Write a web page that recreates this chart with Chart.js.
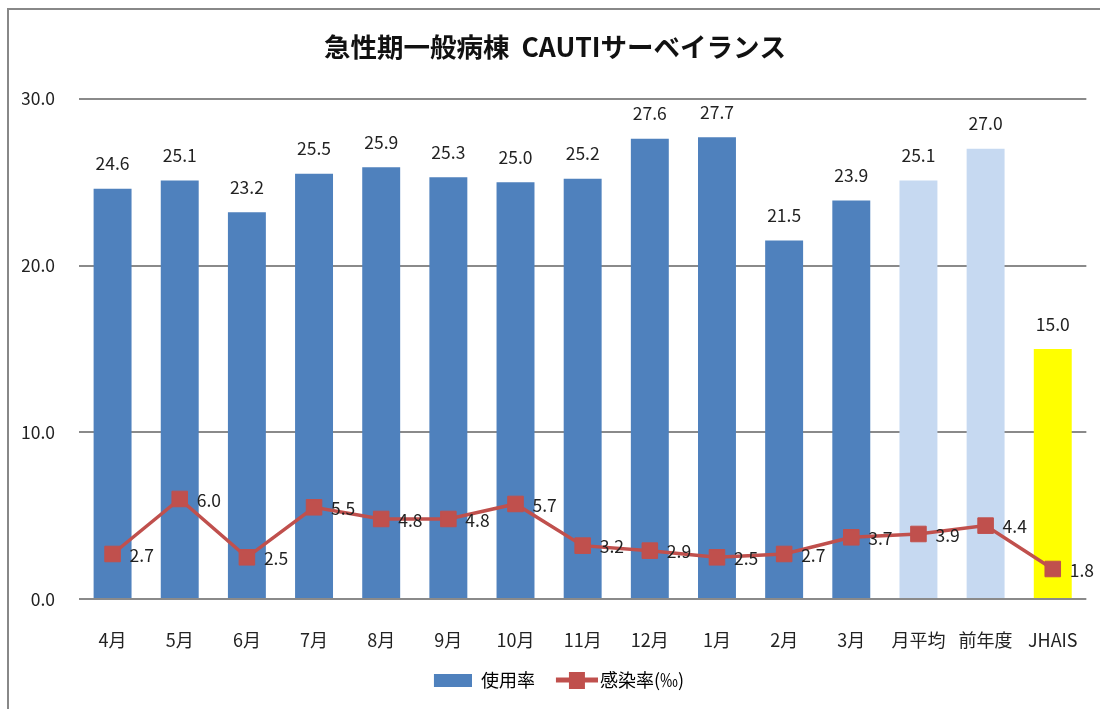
<!DOCTYPE html>
<html lang="ja">
<head>
<meta charset="UTF-8">
<title>急性期一般病棟 CAUTIサーベイランス</title>
<script src="https://cdn.jsdelivr.net/npm/chart.js"></script>
<style>
    html, body { margin: 0; padding: 0; background: #fff; overflow: hidden; }
    .frame {
        position: absolute;
        left: 7px;
        top: 8px;
        width: 1300px;
        height: 900px;
        border: 2px solid #888;
    }
    .wrap { position: absolute; left: 0; top: 0; width: 1100px; height: 709px; }
</style>
</head>
<body>
<div class="frame"></div>
<div class="wrap"><canvas id="chart" width="1100" height="709"></canvas></div>
<script>
const months = ['4月', '5月', '6月', '7月', '8月', '9月', '10月', '11月', '12月', '1月', '2月', '3月', '月平均', '前年度', 'JHAIS'];
const usageRate = [24.6, 25.1, 23.2, 25.5, 25.9, 25.3, 25.0, 25.2, 27.6, 27.7, 21.5, 23.9, 25.1, 27.0, 15.0];
const infectionRate = [2.7, 6.0, 2.5, 5.5, 4.8, 4.8, 5.7, 3.2, 2.9, 2.5, 2.7, 3.7, 3.9, 4.4, 1.8];
const yTicks = [0, 10, 20, 30];

const FONT = "'Noto Sans CJK JP', 'Noto Sans', sans-serif";
const barColors = months.map((m, i) => i < 12 ? '#4f81bd' : (i < 14 ? '#c6d9f1' : '#ffff00'));

// legend swatches (drawn centred on a 46px legend box)
const barSwatch = document.createElement('canvas');
barSwatch.width = 46; barSwatch.height = 13;
let g = barSwatch.getContext('2d');
g.fillStyle = '#4f81bd';
g.fillRect(8, 0, 38, 13);

const lineSwatch = document.createElement('canvas');
lineSwatch.width = 60; lineSwatch.height = 17;
g = lineSwatch.getContext('2d');
g.fillStyle = '#c0504d';
g.fillRect(18, 6, 42, 5);
g.fillRect(31, 0, 16, 17);

// value labels on bars and points
const valueLabels = {
    id: 'valueLabels',
    afterDatasetsDraw(chart) {
        const ctx = chart.ctx;
        ctx.save();
        ctx.font = '17.5px ' + FONT;
        ctx.fillStyle = '#222';
        ctx.textBaseline = 'middle';
        chart.data.datasets.forEach((ds, di) => {
            const meta = chart.getDatasetMeta(di);
            meta.data.forEach((el, i) => {
                const txt = ds.data[i].toFixed(1);
                if (ds.type === 'bar') {
                    ctx.textAlign = 'center';
                    ctx.fillText(txt, el.x, el.y - 25);
                } else {
                    ctx.textAlign = 'left';
                    ctx.fillText(txt, el.x + 17, el.y + 1);
                }
            });
        });
        ctx.restore();
    }
};

new Chart(document.getElementById('chart'), {
    data: {
        labels: months,
        datasets: [
            {
                type: 'bar',
                label: '使用率',
                data: usageRate,
                backgroundColor: barColors,
                barPercentage: 0.565,
                categoryPercentage: 1,
                order: 1
            },
            {
                type: 'line',
                label: '感染率(‰)',
                data: infectionRate,
                borderColor: '#c0504d',
                borderWidth: 3.5,
                pointStyle: 'rect',
                pointRadius: 11,
                pointBackgroundColor: '#c0504d',
                pointBorderColor: '#c0504d',
                pointBorderWidth: 1,
                tension: 0,
                order: 0
            }
        ]
    },
    options: {
        responsive: false,
        animation: false,
        layout: { padding: { left: 22, right: 12, top: 31, bottom: 10 } },
        plugins: {
            tooltip: { enabled: false },
            title: {
                display: true,
                text: '急性期一般病棟  CAUTIサーベイランス',
                color: '#111',
                font: { family: FONT, size: 26.5, weight: 'bold' },
                padding: { top: 0, bottom: 36 }
            },
            legend: {
                position: 'bottom',
                labels: {
                    usePointStyle: true,
                    pointStyleWidth: 46,
                    padding: 10,
                    color: '#222',
                    font: { family: FONT, size: 18 },
                    generateLabels: () => [
                        { text: '使用率', pointStyle: barSwatch, fillStyle: '#4f81bd', strokeStyle: '#4f81bd', lineWidth: 0, datasetIndex: 0 },
                        { text: '感染率(‰)', pointStyle: lineSwatch, fillStyle: '#c0504d', strokeStyle: '#c0504d', lineWidth: 0, datasetIndex: 1 }
                    ]
                }
            }
        },
        scales: {
            x: {
                grid: { display: false },
                border: { display: false },
                ticks: { color: '#222', font: { family: FONT, size: 18 }, padding: 22, maxRotation: 0 },
                afterFit(s) { s.height = 62; }
            },
            y: {
                min: 0,
                max: 30,
                afterBuildTicks(s) { s.ticks = yTicks.map(v => ({ value: v })); },
                grid: { color: '#8a8a8a', lineWidth: 2, drawTicks: false },
                border: { display: false },
                ticks: {
                    color: '#222',
                    font: { family: FONT, size: 17.5 },
                    padding: 24,
                    callback: v => v.toFixed(1)
                },
                afterFit(s) { s.width = 57; }
            }
        }
    },
    plugins: [valueLabels]
});
</script>
</body>
</html>
